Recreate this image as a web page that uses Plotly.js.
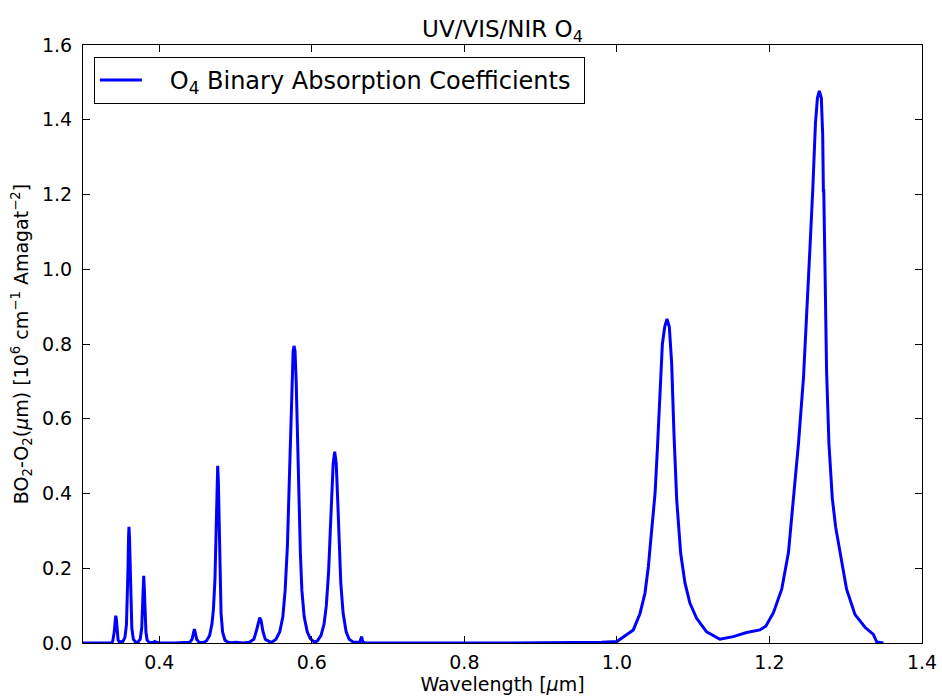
<!DOCTYPE html>
<html>
<head>
<meta charset="utf-8">
<script src="https://cdn.plot.ly/plotly-3.0.1.min.js"></script>
<style>html,body{margin:0;padding:0;background:#fff;}#chart{width:942px;height:698px;}</style>
</head>
<body>
<div id="chart"></div>
<script>
// Wavelength in micrometres
const wavelength = [
  0.300, 0.320, 0.335, 0.337, 0.339, 0.341, 0.3425, 0.343, 0.3437, 0.345, 0.346, 0.348, 0.350,
  0.352, 0.355, 0.357, 0.358, 0.359, 0.3597, 0.3603, 0.361, 0.3617, 0.3625, 0.364, 0.366, 0.369,
  0.372, 0.375, 0.377, 0.378, 0.379, 0.3796, 0.3803, 0.381, 0.3825, 0.384, 0.387,
  0.392, 0.394, 0.396, 0.400, 0.420, 0.440, 0.443, 0.445, 0.446, 0.447, 0.449, 0.452,
  0.458, 0.462, 0.466, 0.469, 0.471, 0.473, 0.4745, 0.4758, 0.4766, 0.4775, 0.4785, 0.4795, 0.481, 0.483, 0.486, 0.490, 0.495,
  0.500, 0.503, 0.510, 0.518, 0.524, 0.527, 0.530, 0.5317, 0.5335, 0.536, 0.539, 0.545,
  0.548, 0.553, 0.558, 0.562, 0.565, 0.568, 0.570, 0.572, 0.574, 0.5755, 0.5767, 0.578, 0.5795, 0.581, 0.583, 0.585, 0.587, 0.590, 0.594, 0.598, 0.603,
  0.607, 0.612, 0.616, 0.619, 0.622, 0.624, 0.626, 0.628, 0.630, 0.632, 0.634, 0.636, 0.638, 0.641, 0.645, 0.649, 0.654,
  0.660, 0.663, 0.665, 0.6654, 0.666, 0.667, 0.670, 0.700, 0.800, 0.900, 0.950, 0.980, 1.000,
  1.0215, 1.0303, 1.0368, 1.0412, 1.0456, 1.050, 1.053, 1.0566, 1.0596, 1.0627, 1.0657, 1.0687, 1.0718, 1.0748, 1.0784,
  1.0836, 1.0893, 1.0958, 1.1045, 1.1176, 1.135, 1.1525, 1.170, 1.1875,
  1.1952, 1.2052, 1.2161, 1.2249, 1.2315, 1.238, 1.2446, 1.249, 1.2534, 1.2568, 1.2603, 1.2629, 1.2654, 1.268, 1.2698, 1.2707, 1.2712,
  1.2727, 1.2749, 1.278, 1.2824, 1.2868, 1.2925, 1.3011, 1.3122, 1.3253, 1.3362, 1.3406, 1.3494
];
// BO2-O2 binary absorption coefficient [1e6 cm^-1 Amagat^-2]
const coefficient = [
  0.000, 0.000, 0.000, 0.000, 0.005, 0.030, 0.065, 0.073, 0.065, 0.025, 0.008, 0.002, 0.004,
  0.003, 0.015, 0.050, 0.110, 0.200, 0.280, 0.311, 0.280, 0.200, 0.110, 0.040, 0.010, 0.002,
  0.002, 0.010, 0.040, 0.090, 0.150, 0.180, 0.150, 0.090, 0.030, 0.008, 0.001,
  0.002, 0.004, 0.002, 0.0005, 0.000, 0.002, 0.010, 0.030, 0.037, 0.030, 0.010, 0.002,
  0.001, 0.006, 0.020, 0.050, 0.090, 0.170, 0.300, 0.430, 0.474, 0.430, 0.300, 0.170, 0.080, 0.030, 0.008, 0.002, 0.001,
  0.002, 0.001, 0.000, 0.002, 0.010, 0.030, 0.060, 0.068, 0.060, 0.030, 0.010, 0.003,
  0.003, 0.010, 0.030, 0.070, 0.140, 0.260, 0.400, 0.560, 0.710, 0.780, 0.795, 0.780, 0.700, 0.560, 0.380, 0.240, 0.140, 0.070, 0.030, 0.012, 0.003,
  0.005, 0.020, 0.050, 0.100, 0.190, 0.290, 0.400, 0.480, 0.512, 0.480, 0.380, 0.260, 0.160, 0.080, 0.030, 0.010, 0.003,
  0.002, 0.003, 0.015, 0.017, 0.010, 0.002, 0.0005, 0.000, 0.000, 0.0005, 0.001, 0.002, 0.004,
  0.035, 0.079, 0.133, 0.204, 0.293, 0.400, 0.516, 0.695, 0.800, 0.846, 0.867, 0.846, 0.748, 0.561, 0.383,
  0.240, 0.160, 0.106, 0.066, 0.030, 0.010, 0.017, 0.028, 0.035,
  0.045, 0.081, 0.144, 0.242, 0.387, 0.533, 0.709, 0.874, 1.069, 1.214, 1.390, 1.458, 1.477, 1.458, 1.360, 1.210, 1.210,
  1.020, 0.728, 0.533, 0.387, 0.310, 0.242, 0.144, 0.076, 0.042, 0.023, 0.003, 0.000
];

const trace = {
  x: wavelength,
  y: coefficient,
  type: 'scatter',
  mode: 'lines',
  name: '\u00a0\u00a0\u00a0O<sub>4</sub> Binary Absorption Coefficients\u00a0',
  line: {color: '#0000ff', width: 3}
};

const axisCommon = {
  showline: true, linecolor: '#000', linewidth: 1, mirror: 'ticks',
  ticks: 'inside', ticklen: 7, tickwidth: 1, tickcolor: '#000',
  showgrid: false, zeroline: false,
  tickfont: {family: 'DejaVu Sans', size: 19, color: '#000'},
  tickformat: '.1f'
};

const layout = {
  width: 942, height: 698,
  margin: {l: 83, r: 20, t: 45, b: 55},
  paper_bgcolor: '#fff', plot_bgcolor: '#fff',
  font: {family: 'DejaVu Sans', color: '#000', size: 19},
  title: {text: 'UV/VIS/NIR O<sub>4</sub>', xref: 'paper', x: 0.5, xanchor: 'center', y: 0.958, yanchor: 'middle',
          font: {family: 'DejaVu Sans', size: 23, color: '#000'}},
  xaxis: Object.assign({}, axisCommon, {
    range: [0.3, 1.4], dtick: 0.2, tick0: 0.4, ticklabelstandoff: 2,
    title: {text: 'Wavelength [<i>μ</i>m]', standoff: 2, font: {family: 'DejaVu Sans', size: 19, color: '#000'}}
  }),
  yaxis: Object.assign({}, axisCommon, {
    range: [0, 1.6], dtick: 0.2, tick0: 0, ticklabelstandoff: 6,
    title: {text: 'BO<sub>2</sub>-O<sub>2</sub>(<i>μ</i>m) [10<sup>6</sup> cm<sup>−1</sup> Amagat<sup>−2</sup>]', standoff: 8,
            font: {family: 'DejaVu Sans', size: 19, color: '#000'}}
  }),
  showlegend: true,
  legend: {x: 0.013, y: 0.98, xanchor: 'left', yanchor: 'top',
           bordercolor: '#000', borderwidth: 1, bgcolor: '#fff', itemwidth: 42,
           font: {family: 'DejaVu Sans', size: 24, color: '#000'}}
};

Plotly.newPlot('chart', [trace], layout, {displayModeBar: false, staticPlot: true});
</script>
</body>
</html>
